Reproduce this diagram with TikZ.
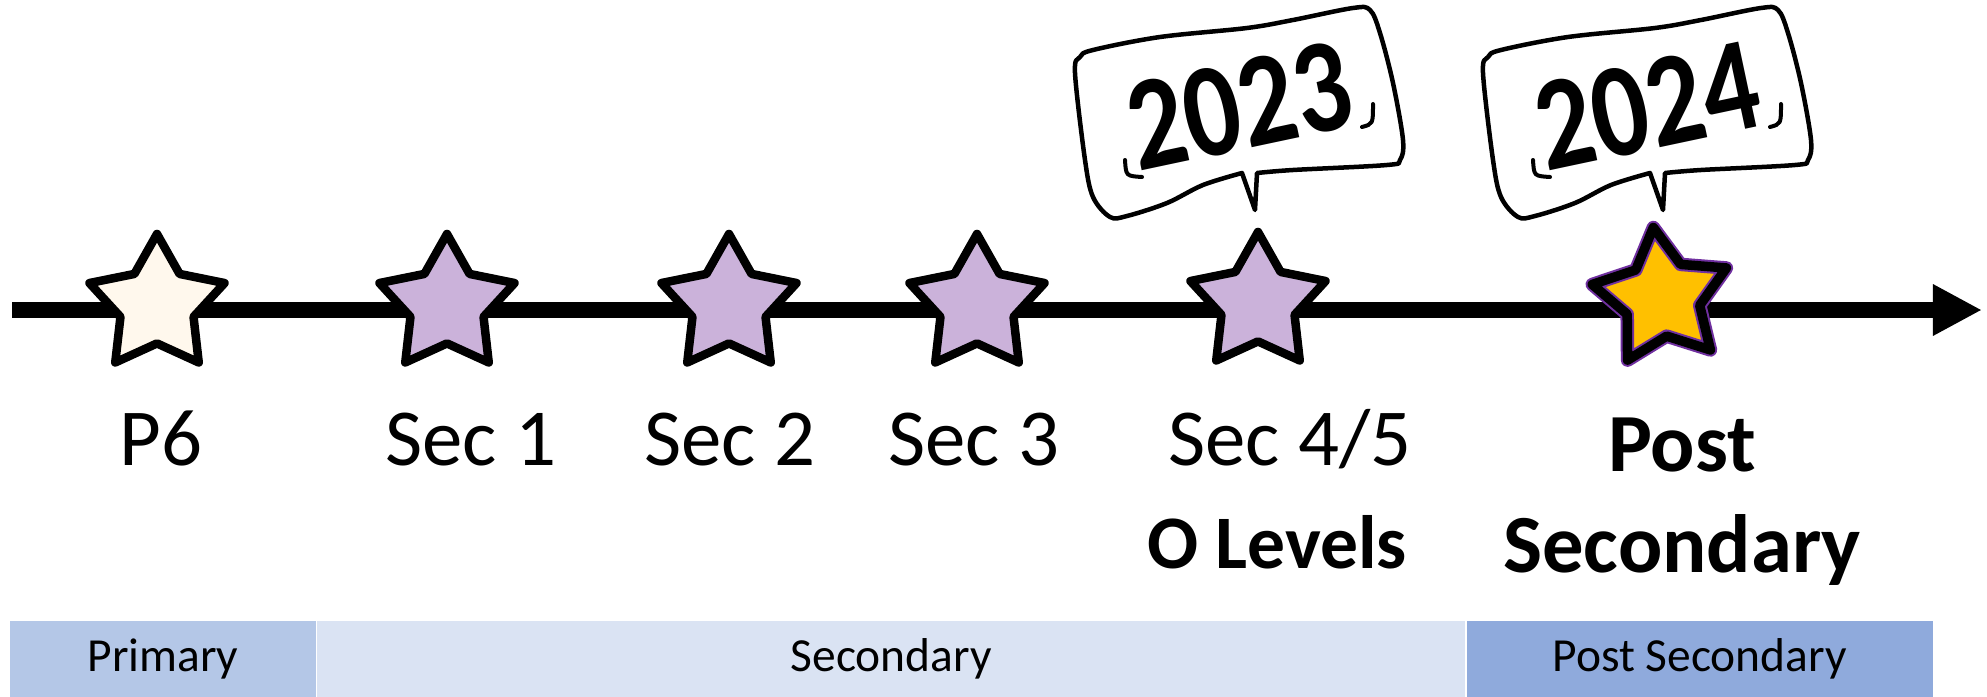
\documentclass[tikz,border=0pt]{standalone}
\usepackage{fontspec}
\setmainfont{Carlito}
\usetikzlibrary{shapes.geometric,arrows.meta,positioning}
\definecolor{lilac}{RGB}{203,178,218}
\definecolor{cream}{RGB}{255,248,237}
\definecolor{gold}{RGB}{255,192,0}
\definecolor{plum}{RGB}{112,48,160}
\definecolor{primband}{RGB}{180,199,231}
\definecolor{secband}{RGB}{218,227,243}
\definecolor{postband}{RGB}{143,170,220}

\begin{document}
\begin{tikzpicture}[x=0.01cm, y=-0.01cm]
\tikzstyle{stage}=[star, star points=5, star point ratio=1.85, minimum size=14.2mm, inner sep=0mm, draw=black, line width=0.85mm, line join=round, fill=lilac]
\tikzstyle{stagetext}=[anchor=base, inner sep=0mm, font=\fontsize{23}{27}\selectfont]
\tikzstyle{keytext}=[anchor=base, inner sep=0mm, font=\fontsize{23.5}{28}\selectfont\bfseries]
\tikzstyle{band}=[rectangle, inner sep=0mm, minimum height=7.6mm, font=\fontsize{13.5}{16}\selectfont]
\tikzstyle{bubble}=[line width=0.45mm, line join=round, fill=white]
\tikzstyle{hook}=[line width=0.4mm, line cap=round]
\tikzstyle{year}=[font=\fontsize{38}{44}\selectfont\bfseries, rotate=12, inner sep=0mm]
\tikzstyle{axis}=[line width=1.5mm, -{Triangle[length=4.9mm, width=4.8mm]}]
\useasboundingbox (0,0) rectangle (1987,697);

  % time line
  \coordinate (start) at (12,310);
  \coordinate (end) at (1982,310);
  \draw[axis] (start) -- (end);

  % stages
  \node[stage, fill=cream] (p6) at (157,305) {};
  \node[stage] (sec1) at (447,305) {};
  \node[stage] (sec2) at (729,305) {};
  \node[stage] (sec3) at (977,305) {};
  \node[stage] (sec45) at (1258,303) {};
  \node[stage, fill=gold, draw=plum, double=black, line width=0.2mm, double distance=0.95mm, rotate=7] (post) at (1662,298) {};

  \node[stagetext] (p6lab) at (161,465) {P6};
  \node[stagetext] (sec1lab) at (471,465) {Sec 1};
  \node[stagetext] (sec2lab) at (730,465) {Sec 2};
  \node[stagetext] (sec3lab) at (974,465) {Sec 3};
  \node[stagetext] (sec45lab) at (1290,465) {Sec 4/5};
  \node[keytext, font=\fontsize{21.5}{26}\selectfont\bfseries] (olev) at (1277,568) {O Levels};
  \node[keytext] (postlab) at (1682,471) {Post};
  \node[keytext] (postlab2) at (1682,572) {Secondary};

  % speech bubbles
  \foreach \dx/\yr/\nm in {0/2023/y23, 408/2024/y24}{
    \begin{scope}[shift={(\dx,0)}]
      \draw[bubble] plot[smooth, tension=0.55] coordinates {(1257,173) (1293,170) (1387,165) (1400,160) (1403,140) (1393,83) (1380,33) (1370,10) (1353,8) (1293,20) (1247,28) (1160,37) (1093,50) (1080,57) (1075,73) (1085,160) (1093,197) (1110,217) (1127,216) (1167,203) (1203,185) (1242,173)} -- (1255,210) -- cycle;
      \node[year] (\nm) at (1239,106) {\scalebox{0.83}[1]{\yr}};
      \draw[hook] (1125,160) .. controls (1126,176) .. (1142,177);
      \draw[hook] (1373,104) .. controls (1373,124) .. (1362,127);
    \end{scope}
  }

  % school levels
  \node[band, fill=primband, minimum width=30.6mm] (primary) at (163,659) {Primary};
  \node[band, fill=secband, minimum width=114.7mm, right=0mm of primary] (secondary) {Secondary};
  \node[band, fill=postband, minimum width=46.6mm, right=0mm of secondary] (postsec) {Post Secondary};
\end{tikzpicture}
\end{document}
